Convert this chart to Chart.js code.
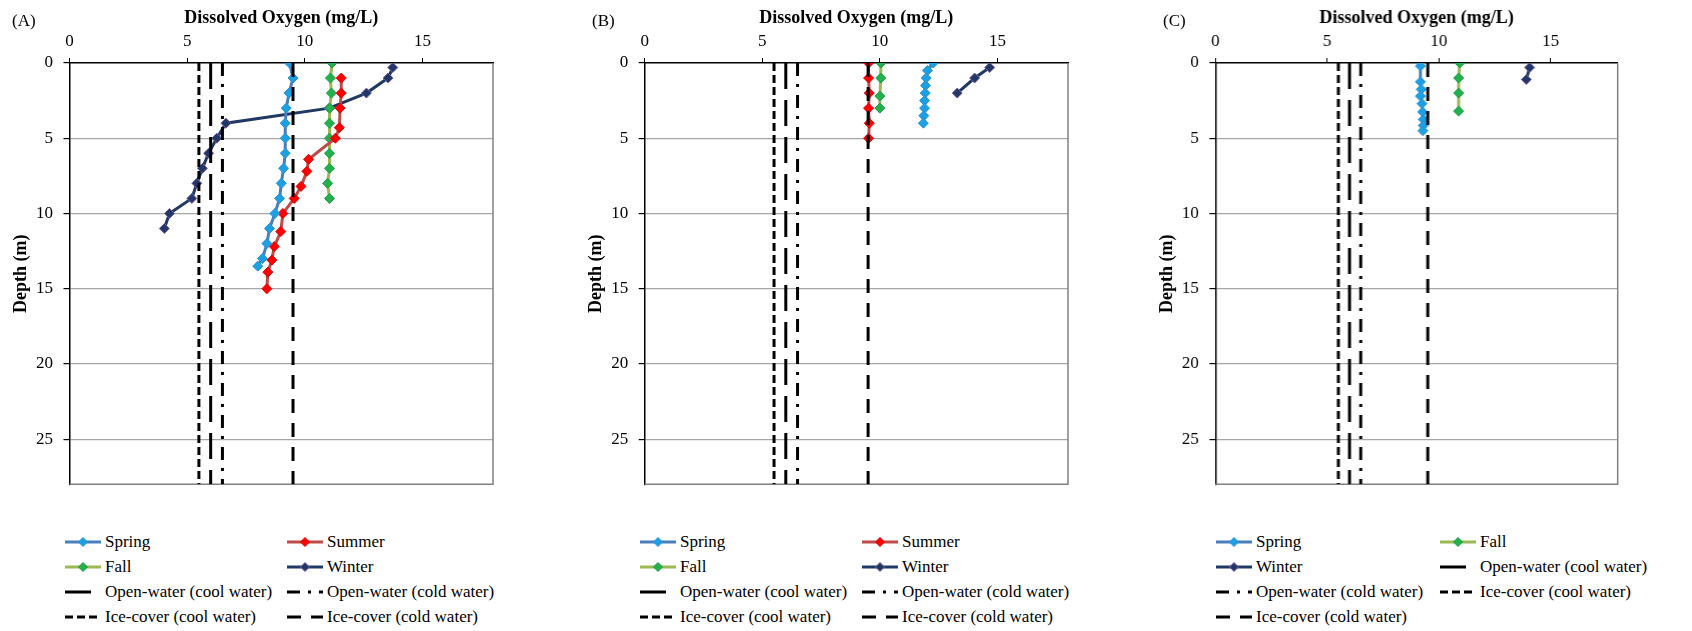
<!DOCTYPE html>
<html>
<head>
<meta charset="utf-8">
<script src="https://cdn.jsdelivr.net/npm/chart.js@4.4.0/dist/chart.umd.min.js"></script>
<style>
  body { margin: 0; background: #fff; }
  #page { position: relative; width: 1692px; height: 631px; overflow: hidden;
          font-family: "Liberation Serif", "Times New Roman", serif; color: #000; }
  .panel { position: absolute; top: 0; height: 505px; }
  .tag { position: absolute; top: 11px; font-size: 17px; line-height: 20px; }
  .legend { position: absolute; top: 529px; display: grid; grid-auto-rows: 25px; font-size: 17px; }
  .item { display: flex; align-items: center; white-space: nowrap; }
  .item svg { width: 36px; height: 14px; margin-right: 4px; flex: none; }
</style>
</head>
<body>
<div id="page"></div>
<script>
// depth (m) and dissolved oxygen (mg/L)
const depthA_spring = [0, 1, 2, 3, 4, 5, 6, 7, 8, 9, 10, 11, 12, 13, 13.5]
const doA_spring    = [9.35, 9.5, 9.33, 9.21, 9.17, 9.17, 9.17, 9.1, 9.0, 8.93, 8.73, 8.5, 8.39, 8.2, 8.0]
const depthA_summer = [1, 2, 3, 4.3, 5, 6.4, 7.2, 8.2, 9, 10, 11.2, 12.2, 13.1, 13.9, 15]
const doA_summer    = [11.55, 11.55, 11.5, 11.47, 11.3, 10.16, 10.09, 9.84, 9.55, 9.07, 8.98, 8.7, 8.6, 8.43, 8.39]
const depthA_fall   = [0, 1, 2, 3, 4, 5, 6, 7, 8, 9]
const doA_fall      = [11.16, 11.09, 11.13, 11.06, 11.05, 11.05, 11.05, 11.05, 10.97, 11.05]
const depthA_winter = [0.3, 1, 2, 3, 4, 5, 6, 7, 8, 9, 10, 11]
const doA_winter    = [13.74, 13.54, 12.62, 11.04, 6.65, 6.26, 5.91, 5.65, 5.41, 5.2, 4.25, 4.03]

const depthB_spring = [0, 0.5, 1, 1.5, 2, 2.5, 3, 3.5, 4]
const doB_spring    = [12.27, 12.02, 11.97, 11.94, 11.93, 11.9, 11.9, 11.87, 11.85]
const depthB_summer = [0, 1, 2, 3, 4, 5]
const doB_summer    = [9.52, 9.52, 9.55, 9.52, 9.55, 9.52]
const depthB_fall   = [0, 1, 2.2, 3]
const doB_fall      = [10.04, 10.04, 10.0, 10.0]
const depthB_winter = [0.3, 1, 2]
const doB_winter    = [14.67, 14.03, 13.29]

const depthC_spring = [0.2, 1.25, 1.75, 2.2, 2.7, 3.25, 3.75, 4.15, 4.5]
const doC_spring    = [9.17, 9.17, 9.21, 9.17, 9.24, 9.27, 9.3, 9.3, 9.28]
const depthC_fall   = [0, 1, 2, 3.2]
const doC_fall      = [10.93, 10.88, 10.88, 10.88]
const depthC_winter = [0.3, 1.1]
const doC_winter    = [14.06, 13.91]

// criteria lines
const criteriaLabels = ['Open-water (cool water)', 'Open-water (cold water)', 'Ice-cover (cool water)', 'Ice-cover (cold water)']
const criteriaDO = [6, 6.5, 5.5, 9.5]
const criteriaDepth = [0, 28]

const xTicks = [0, 5, 10, 15]
const yTicks = [0, 5, 10, 15, 20, 25]


const FONT = "'Liberation Serif', 'Times New Roman', serif"
Chart.defaults.font.family = FONT
Chart.defaults.color = '#000'

const seasonStyle = {
  Spring: {line: '#4a7ebb', fill: '#1ba1e2', edge: '#2b8fd6'},
  Summer: {line: '#be4b48', fill: '#ff0000', edge: '#e00000'},
  Fall:   {line: '#98b954', fill: '#22b14c', edge: '#1f9c45'},
  Winter: {line: '#1f3864', fill: '#1f3864', edge: '#7a5ba6'},
}
const criteriaDash = {
  'Open-water (cool water)': [26, 11],
  'Open-water (cold water)': [13, 8, 3, 8],
  'Ice-cover (cool water)': [8, 4],
  'Ice-cover (cold water)': [14, 10],
}

const panels = [
  {tag: '(A)', tagX: 12, left: 0, yw: 69.5, pw: 423.5, legX: 65, colW: 222,
   seasons: [['Spring', doA_spring, depthA_spring], ['Summer', doA_summer, depthA_summer],
             ['Fall', doA_fall, depthA_fall], ['Winter', doA_winter, depthA_winter]]},
  {tag: '(B)', tagX: 592, left: 575, yw: 69.7, pw: 423.3, legX: 640, colW: 222,
   seasons: [['Spring', doB_spring, depthB_spring], ['Summer', doB_summer, depthB_summer],
             ['Fall', doB_fall, depthB_fall], ['Winter', doB_winter, depthB_winter]]},
  {tag: '(C)', tagX: 1163, left: 1146, yw: 69.3, pw: 401.4, legX: 1216, colW: 224,
   seasons: [['Spring', doC_spring, depthC_spring],
             ['Fall', doC_fall, depthC_fall], ['Winter', doC_winter, depthC_winter]]},
]

// right and bottom edges of the plot box
const frame = {
  id: 'frame',
  beforeDatasetsDraw(chart) {
    const {ctx, chartArea: a} = chart
    ctx.save()
    ctx.strokeStyle = '#808080'
    ctx.lineWidth = 1.5
    ctx.beginPath()
    ctx.moveTo(a.right, a.top)
    ctx.lineTo(a.right, a.bottom)
    ctx.lineTo(a.left, a.bottom)
    ctx.stroke()
    ctx.restore()
  }
}

function swatch(label) {
  const s = seasonStyle[label]
  if (s) {
    return `<svg viewBox="0 0 36 14"><line x1="0" y1="7" x2="36" y2="7" stroke="${s.line}" stroke-width="3"/>` +
      `<path d="M18 2.5 L22.5 7 L18 11.5 L13.5 7 Z" fill="${s.fill}" stroke="${s.edge}" stroke-width="1"/></svg>`
  }
  return `<svg viewBox="0 0 36 14"><line x1="0" y1="7" x2="36" y2="7" stroke="#000" stroke-width="3" ` +
    `stroke-dasharray="${criteriaDash[label].join(' ')}"/></svg>`
}

const page = document.getElementById('page')

panels.forEach(p => {
  const wrap = document.createElement('div')
  wrap.className = 'panel'
  wrap.style.left = p.left + 'px'
  wrap.style.width = (p.yw + p.pw + 10) + 'px'
  const canvas = document.createElement('canvas')
  wrap.appendChild(canvas)
  page.appendChild(wrap)

  const tag = document.createElement('div')
  tag.className = 'tag'
  tag.style.left = p.tagX + 'px'
  tag.textContent = p.tag
  page.appendChild(tag)

  const datasets = []
  criteriaLabels.forEach((label, i) => {
    datasets.push({
      label,
      data: criteriaDepth.map(d => ({x: criteriaDO[i], y: d})),
      showLine: true,
      borderColor: '#000',
      borderWidth: 3,
      borderDash: criteriaDash[label],
      pointRadius: 0,
      order: 0,
    })
  })
  p.seasons.forEach(([label, xs, ys]) => {
    const st = seasonStyle[label]
    datasets.push({
      label,
      data: xs.map((v, i) => ({x: v, y: ys[i]})),
      showLine: true,
      borderColor: st.line,
      borderWidth: 3,
      pointStyle: 'rectRot',
      pointRadius: 5,
      pointBackgroundColor: st.fill,
      pointBorderColor: st.edge,
      pointBorderWidth: 1,
      order: 1,
    })
  })

  new Chart(canvas, {
    type: 'scatter',
    data: {datasets},
    options: {
      responsive: true,
      maintainAspectRatio: false,
      animation: false,
      layout: {padding: {left: 0, right: 10, top: 0, bottom: 5}},
      plugins: {legend: {display: false}, tooltip: {enabled: false}},
      scales: {
        x: {
          type: 'linear',
          position: 'top',
          min: 0,
          max: 18,
          afterBuildTicks: s => { s.ticks = xTicks.map(v => ({value: v})) },
          ticks: {padding: 6, font: {size: 17}},
          grid: {drawOnChartArea: false, drawTicks: true, tickLength: 5, tickColor: '#000'},
          border: {color: '#000', width: 1.5},
          title: {display: true, text: 'Dissolved Oxygen (mg/L)', font: {size: 18, weight: 'bold'},
                  padding: {top: 8, bottom: 0}},
          afterFit: s => { s.height = 63 },
        },
        y: {
          type: 'linear',
          reverse: true,
          min: 0,
          max: 28,
          afterBuildTicks: s => { s.ticks = yTicks.map(v => ({value: v})) },
          ticks: {padding: 10.5, font: {size: 17}},
          grid: {
            color: c => (c.tick && c.tick.value === 0) ? 'rgba(0,0,0,0)' : '#a6a6a6',
            lineWidth: 1.2,
            tickLength: 6,
            tickColor: '#000',
          },
          border: {color: '#000', width: 1.5},
          title: {display: true, text: 'Depth (m)', font: {size: 18, weight: 'bold'},
                  padding: {top: 11, bottom: 0}},
          afterFit: s => { s.width = p.yw },
        },
      },
    },
    plugins: [frame],
  })

  const legend = document.createElement('div')
  legend.className = 'legend'
  legend.style.left = p.legX + 'px'
  legend.style.gridTemplateColumns = p.colW + 'px auto'
  const order = p.seasons.map(s => s[0]).concat(criteriaLabels)
  legend.innerHTML = order.map(l => `<div class="item">${swatch(l)}<span>${l}</span></div>`).join('')
  page.appendChild(legend)
})
</script>
</body>
</html>
